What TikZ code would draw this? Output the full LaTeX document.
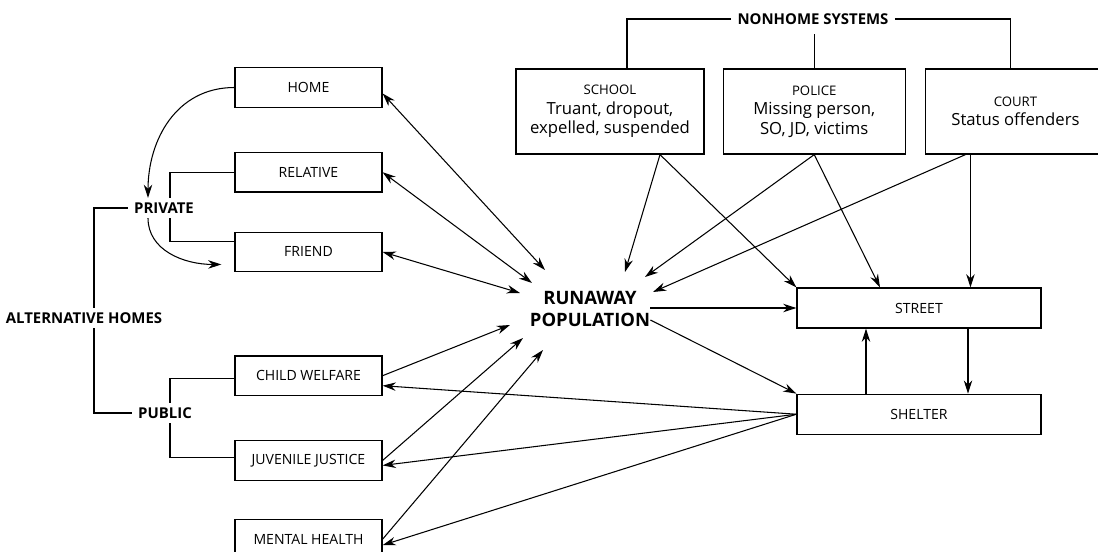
\documentclass[tikz,border=0pt]{standalone}
\usepackage{fontspec}
\setmainfont{Open Sans}
\usetikzlibrary{arrows.meta,positioning,calc}
\newcommand{\systitle}[1]{{\fontsize{7.5}{8.5}\selectfont #1}}

\begin{document}
\begin{tikzpicture}[
  x=0.2mm, y=-0.2mm,
  >={Stealth[length=7.5pt,width=4.8pt]},
  box/.style={draw, line width=0.7pt, minimum width=29.4mm, minimum height=7.9mm, inner sep=0pt, font=\fontsize{8}{9}\selectfont},
  sysbox/.style={draw, line width=0.7pt, minimum height=17mm, align=center, inner sep=0pt, font=\fontsize{9.5}{11}\selectfont},
  hdr/.style={font=\bfseries\fontsize{8.5}{10}\selectfont, inner xsep=3.5pt, inner ysep=2.5pt},
  link/.style={line width=0.6pt}]

\useasboundingbox (0,0) rectangle (1098,552);

% alternative homes column
\node[box] (home) at (308.5,87.5) {HOME};
\node[box, below=8.8mm of home] (relative) {RELATIVE};
\node[box, below=7.8mm of relative] (friend) {FRIEND};
\node[box, below=16.6mm of friend] (welfare) {CHILD WELFARE};
\node[box, below=8.8mm of welfare] (justice) {JUVENILE JUSTICE};
\node[box, below=7.6mm of justice] (mental) {MENTAL HEALTH};

\node[hdr] (private) at (164,208) {PRIVATE};
\node[hdr] (public) at (165,413) {PUBLIC};
\node[hdr] (althomes) at (84,318) {ALTERNATIVE HOMES};

% nonhome systems row
\node[hdr] (nonhome) at (813,19) {NONHOME SYSTEMS};
\node[sysbox, minimum width=37.6mm] (school) at (610,111.5) {\systitle{SCHOOL}\\Truant, dropout,\\expelled, suspended};
\node[sysbox, minimum width=36.4mm, right=3.6mm of school] (police) {\systitle{POLICE}\\Missing person,\\SO, JD, victims};
\node[sysbox, minimum width=36mm, right=3.8mm of police] (court) {\systitle{COURT}\\Status offenders};

\node[box, minimum width=48.8mm, minimum height=8mm] (street) at (919,308) {STREET};
\node[box, minimum width=48.8mm, minimum height=8mm, below=13mm of street] (shelter) {SHELTER};

\node[font=\bfseries\fontsize{10.5}{13}\selectfont, align=center, inner sep=0pt] (runaway) at (590,309) {RUNAWAY\\POPULATION};

% arrow tips round the runaway label
\coordinate (rp-home) at (545,270);
\coordinate (rp-rel) at (532,283);
\coordinate (rp-friend) at (520,293);
\coordinate (rp-welf) at (510,325);
\coordinate (rp-juv) at (523,338);
\coordinate (rp-ment) at (543,350);
\coordinate (rp-school) at (625,272);
\coordinate (rp-police) at (645,277);
\coordinate (rp-court) at (653,292);

% brackets
\draw[link] ([xshift=2mm]althomes.north) |- (private.west);
\draw[link] ([xshift=2mm]althomes.south) |- (public.west);
\draw[link] (relative.west) -| ([xshift=1.2mm]private.north);
\draw[link] ([yshift=2mm]friend.west) -| ([xshift=1.2mm]private.south);
\draw[link] ([yshift=-0.5mm]welfare.west) -| ([xshift=1mm]public.north);
\draw[link] ([yshift=0.5mm]justice.west) -| ([xshift=1mm]public.south);
\draw[link] (nonhome.west) -| ([xshift=3.4mm]school.north);
\draw[link] (nonhome.east) -| ([xshift=-1mm]court.north);
\draw[link] ([yshift=-1mm]police.north |- nonhome.south) -- (police.north);

% curved arrows round PRIVATE
\draw[link, ->] (home.west) .. controls +(-58,0) and +(0,-58) .. ([xshift=-3.2mm]private.north);
\draw[link, ->] ([xshift=-3.2mm]private.south) .. controls +(0,32) and +(-38,0) .. ([xshift=-2.6mm, yshift=-2.5mm]friend.west);

% homes <-> runaway population
\draw[link, <->] ([yshift=-1.2mm]home.east) -- (rp-home);
\draw[link, <->] (relative.east) -- (rp-rel);
\draw[link, <->] (friend.east) -- (rp-friend);
\draw[link, ->] (welfare.east) -- (rp-welf);
\draw[link, ->] (justice.east) -- (rp-juv);
\draw[link, ->] (mental.east) -- (rp-ment);

% shelter back to the public homes
\draw[link, ->] (shelter.west) -- ([yshift=-2mm]welfare.east);
\draw[link, ->] (shelter.west) -- ([yshift=-1mm]justice.east);
\draw[link, ->] (shelter.west) -- ([yshift=-1.2mm]mental.east);

% nonhome systems
\draw[link, ->] ([xshift=1cm]school.south) -- (rp-school);
\draw[link, ->] ([xshift=1cm]school.south) -- (street.north west);
\draw[link, ->] (police.south) -- (rp-police);
\draw[link, ->] (police.south) -- ([xshift=-7.8mm]street.north);
\draw[link, ->] ([xshift=-1cm]court.south) -- (rp-court);
\draw[link, ->] ([xshift=-0.9cm]court.south) -- ([xshift=-0.9cm]court.south |- street.north);

% runaway population, street and shelter
\draw[link, ->] (runaway.east |- street.west) -- (street.west);
\draw[link, ->] ([yshift=-2.2mm]runaway.east) -- (shelter.north west);
\draw[link, ->] ([xshift=0.98cm]street.south) -- ([xshift=0.98cm]street.south |- shelter.north);
\draw[link, ->] ([xshift=-1.06cm]shelter.north) -- ([xshift=-1.06cm]shelter.north |- street.south);

\end{tikzpicture}
\end{document}
